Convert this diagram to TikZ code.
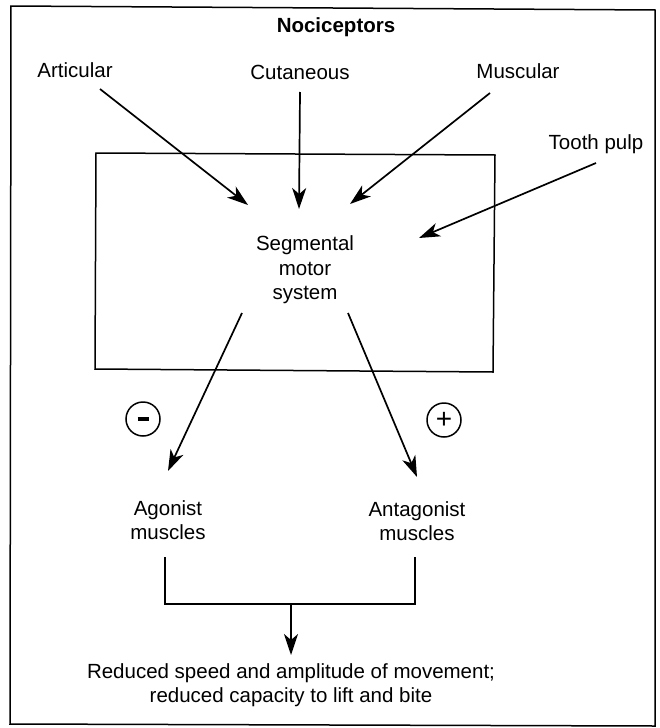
\documentclass[tikz,border=0pt]{standalone}
\usepackage{fontspec}
\setmainfont{Liberation Sans}
\usetikzlibrary{arrows.meta}
\begin{document}
\begin{tikzpicture}[x=1pt,y=-1pt,
  lab/.style={font=\fontsize{20.5}{24.5}\selectfont, align=center, inner sep=0pt},
  arr/.style={line width=1.7pt, -{Stealth[length=21pt,width=14pt,inset=6pt]}},
  frame/.style={line width=1.5pt},
  brk/.style={line width=1.4pt},
  sign/.style={circle, draw, line width=1.5pt, minimum size=34pt, inner sep=0pt}]
\useasboundingbox (0,0) rectangle (660,728);
% frames
\draw[frame] (11,6) -- (655,10) -- (655,726) -- (10,724) -- cycle;
\draw[frame] (96,153) -- (495,155) -- (493,372) -- (95,369) -- cycle;
% texts
\node[lab, font=\bfseries\fontsize{20.5}{24}\selectfont] (noci) at (336,27) {Nociceptors};
\node[lab] (art) at (75,70) {Articular};
\node[lab] (cut) at (300,72) {Cutaneous};
\node[lab] (mus) at (518,71) {Muscular};
\node[lab] (tooth) at (596,144) {Tooth pulp};
\node[lab] (seg) at (305,270) {Segmental\\motor\\system};
\node[lab] (ago) at (168,520) {Agonist\\muscles};
\node[lab] (ant) at (417,521) {Antagonist\\muscles};
\node[lab] (res) at (291,685) {Reduced speed and amplitude of movement;\\reduced capacity to lift and bite};
\node[sign] (minus) at (143,419) {\rule{11pt}{4pt}};
\node[sign, font=\fontsize{28}{28}\selectfont] (plus) at (444,420) {\raisebox{-1pt}{+}};
% arrow ends
\coordinate (artS) at (100,89);  \coordinate (artE) at (248,205);
\coordinate (cutS) at (300,92);  \coordinate (cutE) at (299,209);
\coordinate (musS) at (490,93);  \coordinate (musE) at (350,204);
\coordinate (toothS) at (596,163); \coordinate (toothE) at (419,238);
\coordinate (segL) at (242,313); \coordinate (agoE) at (168,471);
\coordinate (segR) at (348,313); \coordinate (antE) at (417,477);
\coordinate (bl) at (165,557); \coordinate (blc) at (165,604);
\coordinate (br) at (415,557); \coordinate (brc) at (415,604);
\coordinate (bm) at (291,604); \coordinate (resE) at (291,655);
% connectors
\draw[arr] (artS) -- (artE);
\draw[arr] (cutS) -- (cutE);
\draw[arr] (musS) -- (musE);
\draw[arr] (toothS) -- (toothE);
\draw[arr] (segL) -- (agoE);
\draw[arr] (segR) -- (antE);
\draw[brk] (bl) -- (blc) -- (brc) -- (br);
\draw[arr] (bm) -- (resE);
\end{tikzpicture}
\end{document}
